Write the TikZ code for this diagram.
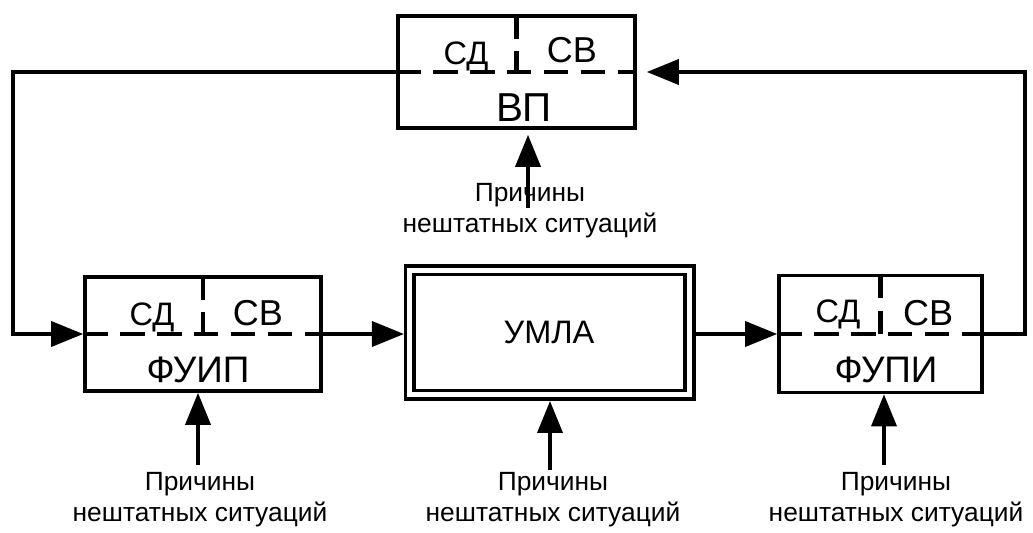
\documentclass[tikz,border=0pt]{standalone}
\usepackage{fontspec}
\setmainfont{Liberation Sans}
\usetikzlibrary{positioning, arrows.meta, calc}
\definecolor{inkBlack}{HTML}{000000}
\tikzset{
  block/.style={draw=inkBlack, line width=2.1pt, inner sep=0pt},
  flow/.style={draw=inkBlack, line width=2.1pt,
    -{Triangle[length=0.64cm, width=0.5cm]}},
  splitline/.style={draw=inkBlack, line width=2.7pt, dash pattern=on 14pt off 7pt},
  part/.style={anchor=base, inner sep=0pt, text=inkBlack},
  cause/.style={anchor=north, align=center, inner sep=0pt,
    font=\fontsize{15}{17.6}\selectfont},
}
\newcommand{\fsz}[1]{\fontsize{#1}{#1}\selectfont}
\newcommand{\splitblock}[1]{%
  \draw[splitline] (#1.west) -- (#1.east);
  \draw[splitline] (#1.north) -- (#1.center);}

\begin{document}
\begin{tikzpicture}[x=0.02cm, y=-0.02cm]
    \useasboundingbox (0,0) rectangle (1033,533);
    % ---- blocks ----
    \node[block, minimum width=4.74cm, minimum height=2.24cm] (vp) at (516.5,72) {};
    \node[block, minimum width=4.72cm, minimum height=2.28cm] (fuip) at (203,334) {};
    \node[block, minimum width=4.06cm, minimum height=2.34cm] (fupi) at (880.5,334) {};
    \node[block, double, double distance=0.1cm, outer sep=0.12cm,
      minimum width=5.59cm, minimum height=2.5cm] (umla) at (549.7,332.5) {};
    \splitblock{vp}
    \splitblock{fuip}
    \splitblock{fupi}
    % ---- texts in blocks ----
    \node[part, font=\fsz{18.5}] (vpsd) at (466,65) {СД};
    \node[part, font=\fsz{20.5}] (vpsv) at (572,63) {СВ};
    \node[part, font=\fsz{23}] (vpname) at (524,122) {ВП};
    \node[part, font=\fsz{18.5}] (fuipsd) at (152,325) {СД};
    \node[part, font=\fsz{20.5}] (fuipsv) at (258,325) {СВ};
    \node[part, font=\fsz{21}] (fuipname) at (198,382) {ФУИП};
    \node[part, font=\fsz{18.5}] (fupisd) at (838,322) {СД};
    \node[part, font=\fsz{20.5}] (fupisv) at (928,325) {СВ};
    \node[part, font=\fsz{21}] (fupiname) at (886,382) {ФУПИ};
    \node[part, font=\fsz{18.5}] (umlaname) at (549,343) {УМЛА};
    % ---- causes ----
    \node[cause] (vpcause) at (530,183) {Причины\\нештатных ситуаций};
    \node[cause] (fuipcause) at (200,472) {Причины\\нештатных ситуаций};
    \node[cause] (umlacause) at (553,472) {Причины\\нештатных ситуаций};
    \node[cause] (fupicause) at (896,472) {Причины\\нештатных ситуаций};
    \coordinate (leftbus) at (13,0);
    \coordinate (rightbus) at (1025,0);
    % ---- connectors ----
    \draw[flow] (fuip.east) -- (fuip.east -| umla.west);
    \draw[flow] (umla.east |- fupi.west) -- (fupi.west);
    \draw[flow] (vp.west) -- (vp.west -| leftbus) |- (fuip.west);
    \draw[flow, shorten >=0.2cm] (fupi.east) -- (fupi.east -| rightbus) |- (vp.east);
    \draw[flow, shorten >=0.1cm] ([xshift=-0.04cm, yshift=-0.5cm]vpcause.north)
      -- ([xshift=-0.04cm]vpcause.north |- vp.south);
    \draw[flow] ([xshift=-0.04cm, yshift=0.14cm]fuipcause.north)
      -- ([xshift=-0.04cm]fuipcause.north |- fuip.south);
    \draw[flow] ([xshift=-0.06cm, yshift=0.04cm]umlacause.north)
      -- ([xshift=-0.06cm]umlacause.north |- umla.south);
    \draw[flow] ([xshift=-0.24cm, yshift=0.14cm]fupicause.north)
      -- ([xshift=-0.24cm]fupicause.north |- fupi.south);
  \end{tikzpicture}
\end{document}
